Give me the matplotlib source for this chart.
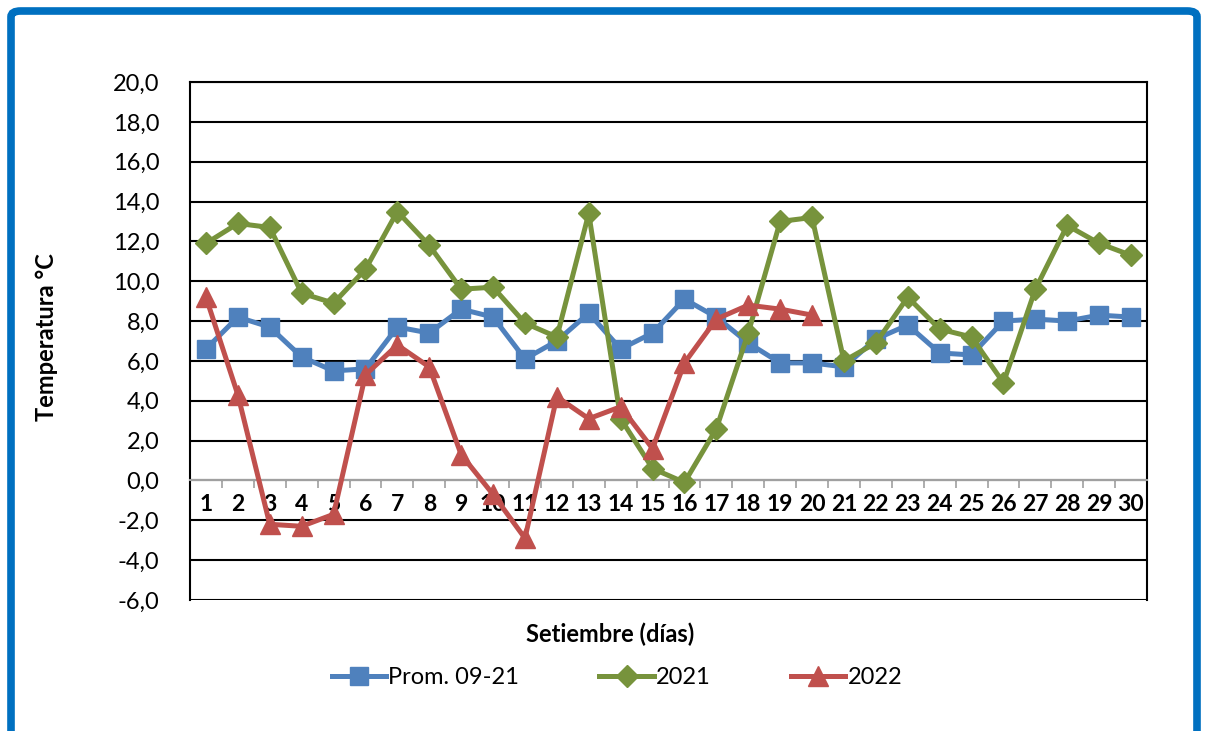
import matplotlib
matplotlib.use("Agg")
import matplotlib.pyplot as plt
from matplotlib.patches import FancyBboxPatch
from matplotlib.ticker import FixedLocator, FuncFormatter

days = list(range(1, 31))
prom = [6.6, 8.2, 7.7, 6.2, 5.5, 5.6, 7.7, 7.4, 8.6, 8.2,
        6.1, 7.0, 8.4, 6.6, 7.4, 9.1, 8.2, 6.9, 5.9, 5.9,
        5.7, 7.1, 7.8, 6.4, 6.3, 8.0, 8.1, 8.0, 8.3, 8.2]
y2021 = [11.9, 12.9, 12.7, 9.4, 8.9, 10.6, 13.5, 11.8, 9.6, 9.7,
         7.9, 7.2, 13.4, 3.1, 0.6, -0.1, 2.6, 7.4, 13.0, 13.2,
         6.0, 6.9, 9.2, 7.6, 7.2, 4.9, 9.6, 12.8, 11.9, 11.3]
y2022 = [9.2, 4.3, -2.2, -2.3, -1.7, 5.3, 6.8, 5.7, 1.3, -0.7,
         -2.9, 4.2, 3.1, 3.7, 1.6, 5.9, 8.1, 8.8, 8.6, 8.3]
series_names = ["Prom. 09-21", "2021", "2022"]
yticks = [-6, -4, -2, 0, 2, 4, 6, 8, 10, 12, 14, 16, 18, 20]

FONT = ["Lato", "DejaVu Sans"]
plt.rcParams['font.family'] = FONT

fig = plt.figure(figsize=(12.08, 7.31), dpi=100)

# outer blue rounded frame
frame = FancyBboxPatch((11 / 1208, -0.05), (1186 / 1208), 1.05 - 11 / 731,
                       boxstyle="round,pad=0,rounding_size=0.008",
                       transform=fig.transFigure, fill=False,
                       edgecolor="#0070C0", linewidth=5.5, zorder=0)
fig.patches.append(frame)

ax = fig.add_axes([190 / 1208, 1 - 600 / 731, (1147 - 190) / 1208, (600 - 82) / 731])

ax.set_xlim(0.5, 30.5)
ax.set_ylim(-6, 20)
ax.set_yticks(yticks)
ax.yaxis.set_major_formatter(FuncFormatter(lambda v, p: f"{v:.1f}".replace(".", ",")))
ax.grid(axis="y", color="black", linewidth=1.5, zorder=0)
for s in ["top", "right", "left"]:
    ax.spines[s].set_color("black")
    ax.spines[s].set_linewidth(1.5)
ax.spines["bottom"].set_position(("data", 0))
ax.spines["bottom"].set_color("#A0A0A0")
ax.spines["bottom"].set_linewidth(1.5)
ax.tick_params(axis="y", length=0, labelsize=17, pad=22)

# category ticks at boundaries, labels at centers
ax.xaxis.set_major_locator(FixedLocator([i + 0.5 for i in range(0, 31)]))
ax.xaxis.set_major_formatter(FuncFormatter(lambda v, p: ""))
ax.xaxis.set_minor_locator(FixedLocator(days))
ax.xaxis.set_minor_formatter(FuncFormatter(lambda v, p: f"{int(round(v))}"))
ax.tick_params(axis="x", which="major", direction="out", length=6, color="#A0A0A0", width=1.2)
ax.tick_params(axis="x", which="minor", length=0, labelsize=16.5, pad=10)

ax.plot(days, prom, color="#4F81BD", linewidth=3.6, marker="s", markersize=13,
        label=series_names[0], zorder=3)
ax.plot(days, y2021, color="#77933C", linewidth=3.6, marker="D", markersize=11,
        label=series_names[1], zorder=4)
ax.plot(days[:len(y2022)], y2022, color="#C0504D", linewidth=3.6, marker="^", markersize=15,
        label=series_names[2], zorder=5)

for lbl in ax.xaxis.get_minorticklabels():
    lbl.set_fontweight("bold")

fig.text(47 / 1208, 1 - 337 / 731, "Temperatura °C", fontsize=17, fontweight="bold",
         rotation=90, ha="center", va="center")
fig.text(610 / 1208, 1 - 634 / 731, "Setiembre (días)", fontsize=17, fontweight="bold",
         ha="center", va="center")

leg = fig.legend(loc="center", bbox_to_anchor=(617 / 1208, 1 - 678 / 731), ncol=3,
                 frameon=False, fontsize=17, columnspacing=3.4, handlelength=2.3,
                 handletextpad=0.1, markerscale=1.0)

fig.savefig("out.png", dpi=100)
